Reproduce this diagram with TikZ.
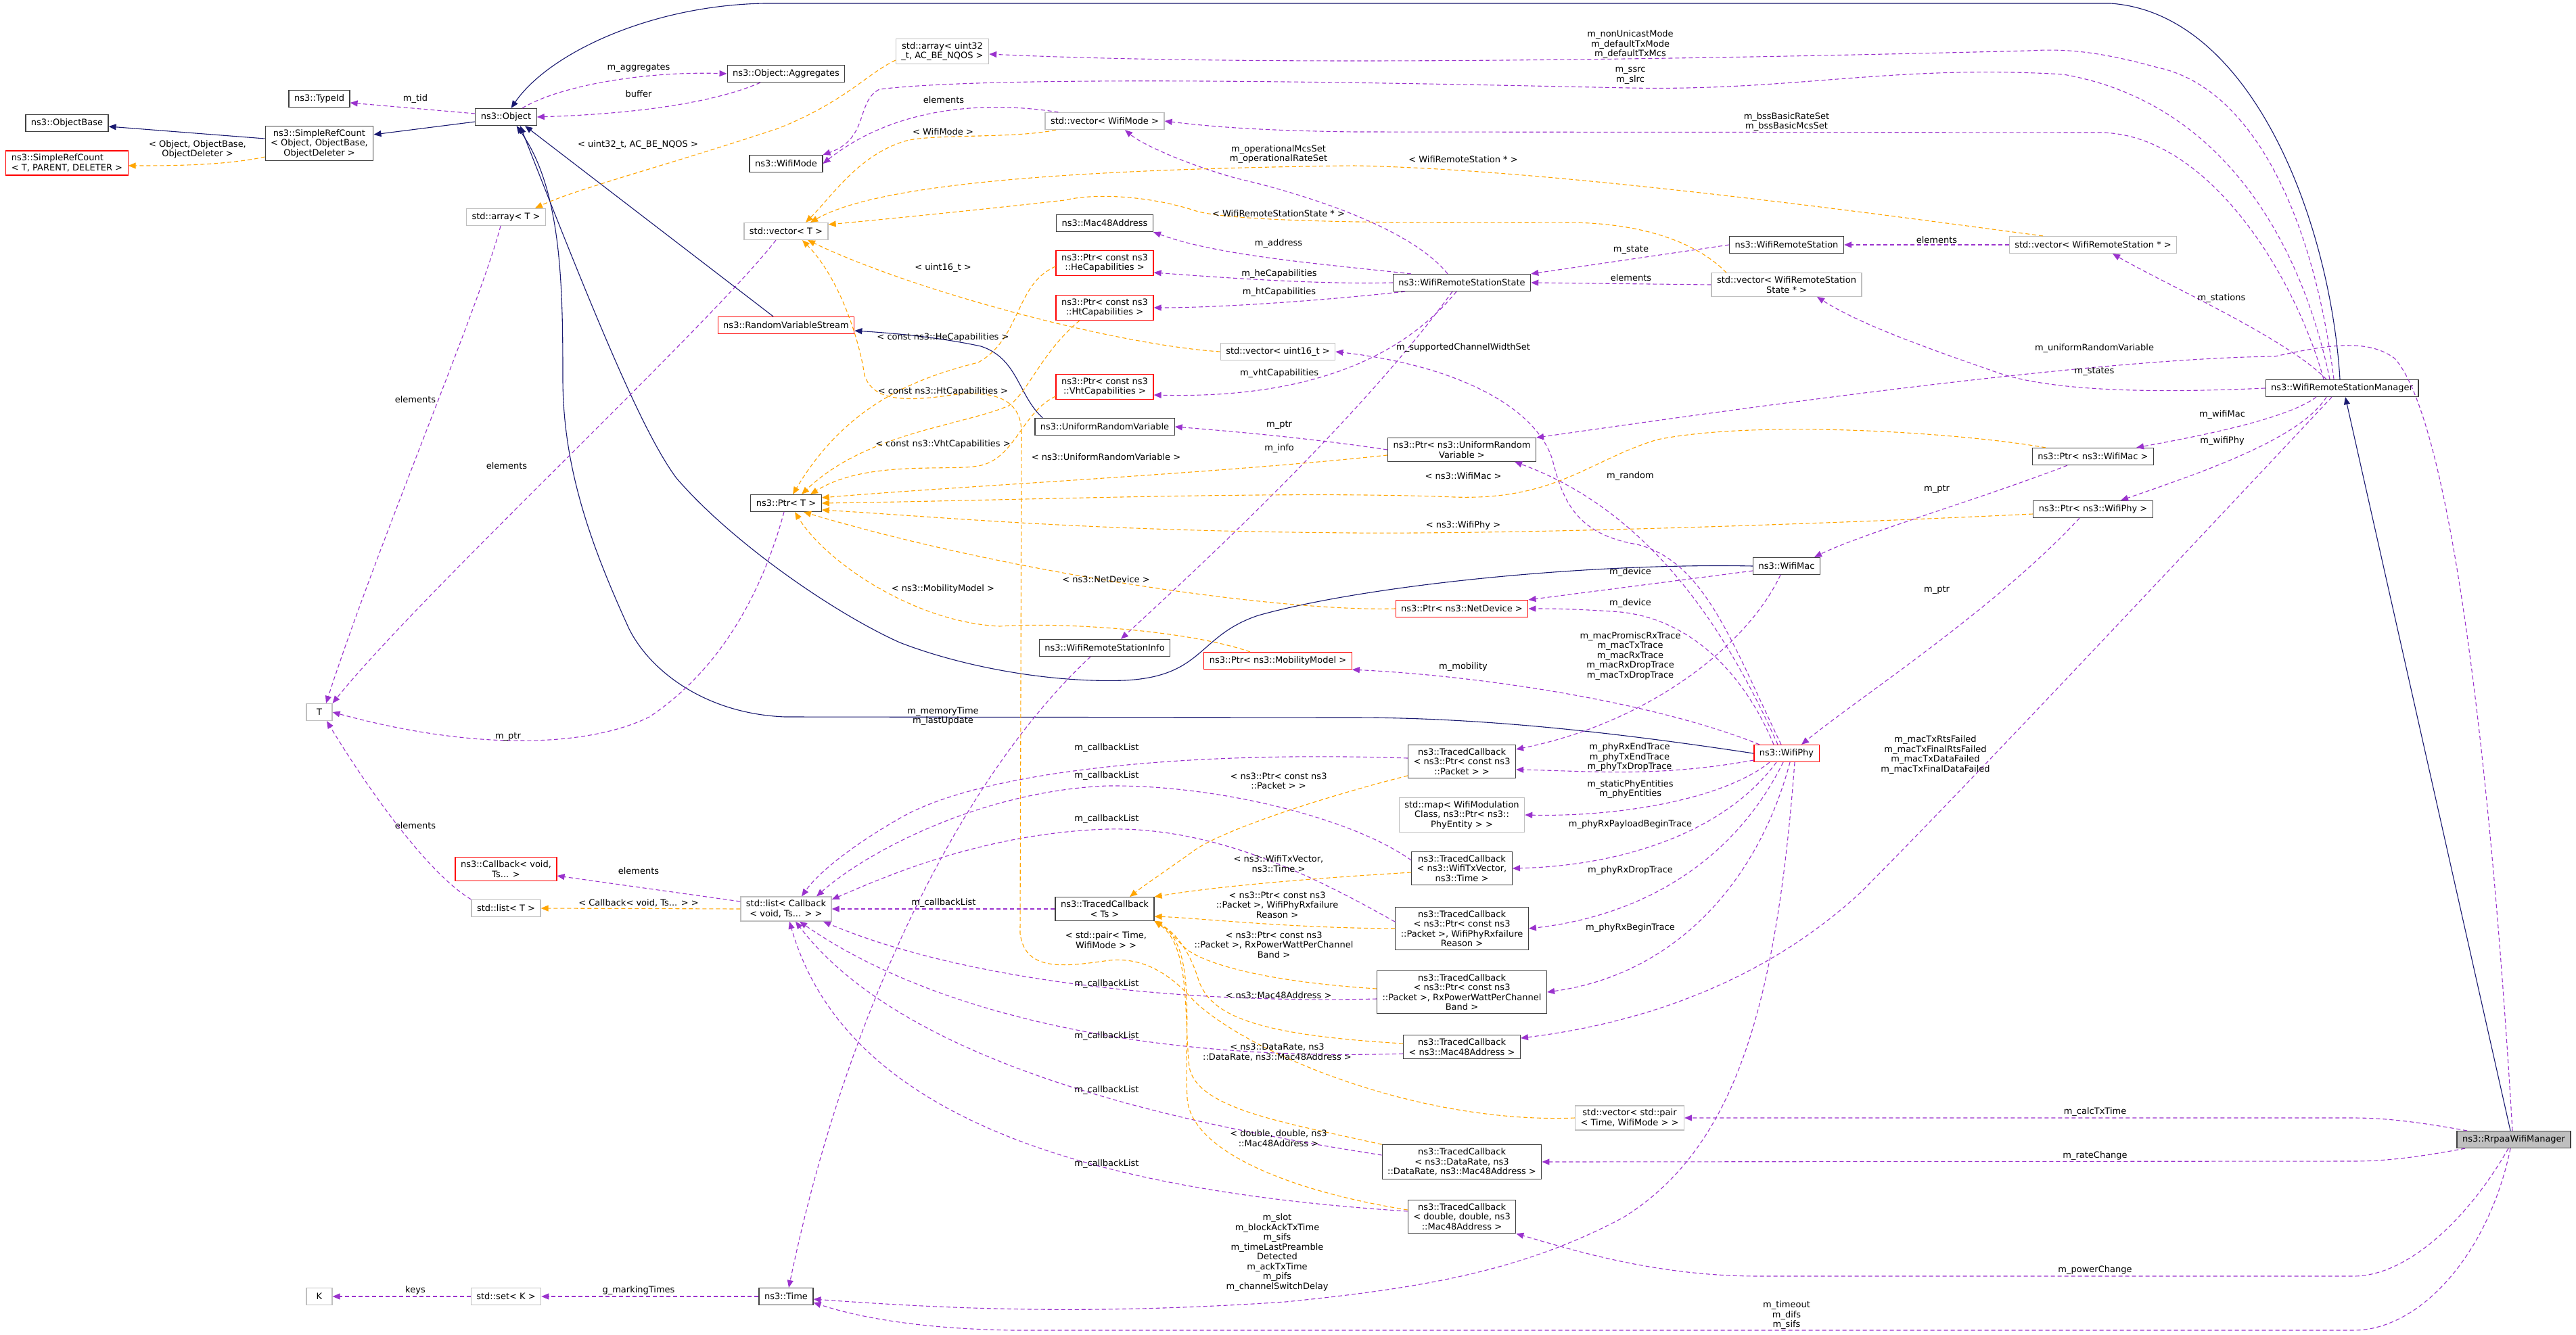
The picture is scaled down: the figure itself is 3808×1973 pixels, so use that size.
\documentclass[tikz,border=0pt]{standalone}
\usepackage{fontspec}
\setmainfont{DejaVu Sans}
\usetikzlibrary{arrows.meta}
\definecolor{inhcol}{HTML}{191970}
\definecolor{usecol}{HTML}{9A32CD}
\definecolor{tplcol}{HTML}{FFA500}
\definecolor{boxcol}{HTML}{404040}
\definecolor{extcol}{HTML}{BFBFBF}

\begin{document}
\begin{tikzpicture}[x=1pt,y=-1pt,
  every node/.style={font=\fontsize{13}{14.5}\selectfont},
  cls/.style={draw=boxcol, line width=1.2pt, fill=white, align=center,
              inner xsep=8pt, inner ysep=5pt, minimum height=25pt},
  extcls/.style={cls, draw=extcol},
  redcls/.style={cls, draw=red},
  maincls/.style={cls, fill=extcol},
  lbl/.style={align=center, inner sep=1pt},
  inh/.style={draw=inhcol, line width=1.1pt, -{Triangle[length=11pt,width=9pt]}},
  use/.style={draw=usecol, line width=1.1pt, dash pattern=on 6pt off 4pt,
              -{Triangle[length=11pt,width=9pt]}},
  tpl/.style={use, draw=tplcol},
  ]
  \path[fill=white] (0,0) rectangle (3808,1973);
  \useasboundingbox (0,0) rectangle (3808,1973);

  % classes
  \node[cls] (obase) at (99,182) {ns3::ObjectBase};
  \node[redcls, align=left] (srcT) at (99,241) {ns3::SimpleRefCount\\< T, PARENT, DELETER >};
  \node[cls] (srcO) at (472,212) {ns3::SimpleRefCount\\< Object, ObjectBase,\\ObjectDeleter >};
  \node[cls] (typeid) at (472,146) {ns3::TypeId};
  \node[cls] (object) at (748,173) {ns3::Object};
  \node[extcls] (arrT) at (748,321) {std::array< T >};
  \node[cls] (aggr) at (1162,109) {ns3::Object::Aggregates};
  \node[extcls] (arrU) at (1393,76) {std::array< uint32\\\_t, AC\_BE\_NQOS >};
  \node[cls] (wmode) at (1162,242) {ns3::WifiMode};
  \node[extcls] (vecWM) at (1633,179) {std::vector< WifiMode >};
  \node[extcls] (vecT) at (1162,342) {std::vector< T >};
  \node[cls] (mac48) at (1633,330) {ns3::Mac48Address};
  \node[redcls] (heCap) at (1633,389) {ns3::Ptr< const ns3\\::HeCapabilities >};
  \node[redcls] (htCap) at (1633,455) {ns3::Ptr< const ns3\\::HtCapabilities >};
  \node[redcls] (vhtCap) at (1633,572) {ns3::Ptr< const ns3\\::VhtCapabilities >};
  \node[redcls] (rvs) at (1162,481) {ns3::RandomVariableStream};
  \node[extcls] (vecU16) at (1889,520) {std::vector< uint16\_t >};
  \node[cls] (urv) at (1633,631) {ns3::UniformRandomVariable};
  \node[cls] (ptrT) at (1162,744) {ns3::Ptr< T >};
  \node[cls] (wrsi) at (1633,958) {ns3::WifiRemoteStationInfo};
  \node[redcls] (ptrMob) at (1889,977) {ns3::Ptr< ns3::MobilityModel >};
  \node[cls] (wrs) at (2641,362) {ns3::WifiRemoteStation};
  \node[cls] (wrss) at (2161,418) {ns3::WifiRemoteStationState};
  \node[extcls] (vecWRSS) at (2641,421) {std::vector< WifiRemoteStation\\State * >};
  \node[extcls] (vecWRS) at (3094,362) {std::vector< WifiRemoteStation * >};
  \node[cls] (wrsm) at (3462,574) {ns3::WifiRemoteStationManager};
  \node[cls] (ptrMac) at (3094,675) {ns3::Ptr< ns3::WifiMac >};
  \node[cls] (ptrPhy) at (3094,753) {ns3::Ptr< ns3::WifiPhy >};
  \node[cls] (ptrURV) at (2161,665) {ns3::Ptr< ns3::UniformRandom\\Variable >};
  \node[cls] (wmac) at (2641,837) {ns3::WifiMac};
  \node[redcls] (ptrND) at (2161,900) {ns3::Ptr< ns3::NetDevice >};
  \node[cls] (tcPkt) at (2161,1126) {ns3::TracedCallback\\< ns3::Ptr< const ns3\\::Packet > >};
  \node[redcls] (wphy) at (2641,1114) {ns3::WifiPhy};
  \node[extcls] (phyMap) at (2161,1205) {std::map< WifiModulation\\Class, ns3::Ptr< ns3::\\PhyEntity > >};
  \node[cls] (tcTx) at (2161,1284) {ns3::TracedCallback\\< ns3::WifiTxVector,\\ns3::Time >};
  \node[cls] (tcFail) at (2161,1373) {ns3::TracedCallback\\< ns3::Ptr< const ns3\\::Packet >, WifiPhyRxfailure\\Reason >};
  \node[cls] (tcPow) at (2161,1467) {ns3::TracedCallback\\< ns3::Ptr< const ns3\\::Packet >, RxPowerWattPerChannel\\Band >};
  \node[cls] (tcMac) at (2161,1548) {ns3::TracedCallback\\< ns3::Mac48Address >};
  \node[extcls] (vecPair) at (2409,1653) {std::vector< std::pair\\< Time, WifiMode > >};
  \node[cls] (tcRate) at (2161,1718) {ns3::TracedCallback\\< ns3::DataRate, ns3\\::DataRate, ns3::Mac48Address >};
  \node[cls] (tcDbl) at (2161,1799) {ns3::TracedCallback\\< double, double, ns3\\::Mac48Address >};
  \node[maincls] (rrpaa) at (3716,1685) {ns3::RrpaaWifiManager};
  \node[extcls, minimum width=38pt] (T) at (472,1053) {T};
  \node[redcls] (cb) at (748,1285) {ns3::Callback< void,\\Ts... >};
  \node[extcls] (listT) at (748,1343) {std::list< T >};
  \node[extcls] (listCb) at (1162,1344) {std::list< Callback\\< void, Ts... > >};
  \node[cls] (tcTs) at (1633,1344) {ns3::TracedCallback\\< Ts >};
  \node[extcls, minimum width=38pt] (K) at (472,1917) {K};
  \node[extcls] (setK) at (748,1917) {std::set< K >};
  \node[cls] (time) at (1162,1917) {ns3::Time};

  % inheritance
  \draw[inh] ([xshift=-3pt]wrsm.north) .. controls (3445,330) and (3330,20) .. (3120,5) -- (1130,5)
    .. controls (960,8) and (810,80) .. (object.60);
  \draw[inh] ([xshift=-19pt]rvs.north) -- (object.-25);
  \draw[inh] ([xshift=12pt]urv.north west) .. controls (1505,585) and (1505,530) .. (1450,512)
    .. controls (1380,497) and (1310,492) .. ([yshift=-8pt]rvs.east);
  \draw[inh] (wmac.west) .. controls (2350,832) and (2020,865) .. (1860,910)
    .. controls (1770,940) and (1780,1000) .. (1663,1006)
    .. controls (1550,1010) and (1420,985) .. (1330,950)
    .. controls (1230,905) and (1080,800) .. (1000,707)
    .. controls (950,640) and (880,470) .. (object.-32);
  \draw[inh] (wphy.west) .. controls (2400,1085) and (2200,1061) .. (2000,1061) -- (1160,1060)
    .. controls (1040,1055) and (960,990) .. (930,930)
    .. controls (880,820) and (832,700) .. (832,560)
    .. controls (832,420) and (830,280) .. (object.-40);
  \draw[inh] ([xshift=-5pt]rrpaa.north) -- ([xshift=5pt]wrsm.south);
  \draw[inh] ([yshift=7pt]srcO.west) -- ([yshift=-5pt]obase.east);
  \draw[inh] ([yshift=-7pt]object.west) -- ([yshift=13pt]srcO.east);

  % usage
  \draw[use] ([yshift=5pt]object.west) -- ([yshift=-6pt]typeid.east);
  \draw[use] ([xshift=24pt]object.north) .. controls (830,125) and (960,105) .. (aggr.west);
  \draw[use] ([xshift=-38pt]aggr.south) .. controls (1060,150) and (950,168) .. (object.east);
  \draw[use] ([xshift=-12pt]wrsm.north) .. controls (3420,320) and (3330,130) .. (3190,100)
    .. controls (3100,75) and (3050,72) .. (3000,75)
    .. controls (2600,85) and (1900,100) .. ([yshift=-4pt]arrU.east);
  \draw[use] ([xshift=-18pt]wrsm.north) .. controls (3400,350) and (3280,150) .. (3050,110)
    .. controls (2800,95) and (2650,135) .. (2408,130)
    .. controls (2200,126) and (1500,108) .. (1300,132)
    .. controls (1265,150) and (1285,205) .. (wmode.north east);
  \draw[use] ([xshift=20pt]vecWM.north west) .. controls (1450,148) and (1320,160) .. (wmode.east);
  \draw[use] ([xshift=-27pt]wrsm.north) .. controls (3390,400) and (3260,196) .. (3103,196) -- (2000,195)
    .. controls (1850,193) and (1780,186) .. (vecWM.east);
  \draw[use] ([xshift=-21pt]wrss.north) .. controls (2080,330) and (1900,280) .. (1829,264)
    .. controls (1760,245) and (1690,215) .. ([xshift=30pt]vecWM.south);
  \draw[use] (vecWRS.west) -- (wrs.east);
  \draw[use] (wrs.west) -- (wrss.north east);
  \draw[use] (vecWRSS.west) -- (wrss.east);
  \draw[use] (wrsm.west) .. controls (3150,583) and (3020,575) .. (2950,550)
    .. controls (2850,515) and (2750,480) .. ([xshift=45pt]vecWRSS.south);
  \draw[use] ([xshift=-23pt]wrsm.north) .. controls (3380,500) and (3200,420) .. ([xshift=29pt]vecWRS.south);
  \draw[use] ([xshift=-75pt]wrss.north) .. controls (1950,390) and (1800,378) .. (mac48.south east);
  \draw[use] (wrss.west) .. controls (1950,421) and (1800,410) .. ([yshift=-14pt]heCap.east);
  \draw[use] ([xshift=-84pt]wrss.south) .. controls (1950,445) and (1800,455) .. (htCap.east);
  \draw[use] ([xshift=-8pt]wrss.south) .. controls (2080,520) and (1950,590) .. ([yshift=-12pt]vhtCap.east);
  \draw[use] ([xshift=-14pt]wrss.south) .. controls (2010,620) and (1760,850) .. ([xshift=24pt]wrsi.north);
  \draw[use] ([xshift=-2pt]rrpaa.north) .. controls (3680,1100) and (3620,620) .. (3540,530)
    .. controls (3500,500) and (3440,510) .. (3363,527)
    .. controls (3100,530) and (2600,600) .. (ptrURV.north east);
  \draw[use] (ptrURV.west) .. controls (1950,650) and (1850,640) .. (urv.east);
  \draw[use] ([xshift=-13pt]wphy.north) .. controls (2560,950) and (2450,760) .. ([xshift=78pt]ptrURV.south);
  \draw[use] ([xshift=-8pt]wphy.north) .. controls (2560,950) and (2520,830) .. (2420,805)
    .. controls (2330,790) and (2310,740) .. (2295,680)
    .. controls (2270,600) and (2150,540) .. (vecU16.east);
  \draw[use] ([xshift=-19pt]wphy.north) .. controls (2580,1000) and (2500,910) .. (2383,904)
    .. controls (2320,900) and (2290,900) .. (ptrND.east);
  \draw[use] ([yshift=-7pt]wmac.west) -- (ptrND.north east);
  \draw[use] ([xshift=-9pt]wmac.south) .. controls (2580,960) and (2430,1070) .. ([yshift=18pt]tcPkt.east);
  \draw[use] ([yshift=-10pt]wphy.west) .. controls (2450,1150) and (2350,1140) .. ([yshift=-12pt]tcPkt.east);
  \draw[use] ([xshift=-40pt]wphy.north) .. controls (2450,1040) and (2200,1000) .. (ptrMob.south east);
  \draw[use] ([xshift=-25pt]wphy.south) .. controls (2550,1180) and (2400,1208) .. (phyMap.east);
  \draw[use] ([xshift=-15pt]wphy.south) .. controls (2550,1230) and (2400,1280) .. (tcTx.east);
  \draw[use] ([xshift=-5pt]wphy.south) .. controls (2560,1280) and (2420,1355) .. (tcFail.east);
  \draw[use] ([xshift=5pt]wphy.south) .. controls (2600,1300) and (2480,1440) .. (tcPow.east);
  \draw[use] ([xshift=12pt]wphy.south) .. controls (2625,1500) and (2560,1700) .. (2400,1800)
    .. controls (2250,1880) and (2100,1905) .. (1900,1925)
    .. controls (1600,1945) and (1400,1935) .. ([yshift=-4pt]time.east);
  \draw[use] ([xshift=-15pt]wrsm.south) .. controls (3200,850) and (2900,1170) .. (2750,1320)
    .. controls (2620,1440) and (2450,1510) .. ([yshift=13pt]tcMac.east);
  \draw[use] ([xshift=-38pt]ptrMac.south) .. controls (2950,730) and (2750,790) .. ([xshift=41pt]wmac.north);
  \draw[use] ([xshift=-20pt]ptrPhy.south) .. controls (2950,900) and (2750,1030) .. ([xshift=22pt]wphy.north);
  \draw[use] ([xshift=-38pt]wrsm.south) .. controls (3380,620) and (3250,645) .. ([xshift=64pt]ptrMac.north);
  \draw[use] ([xshift=-23pt]wrsm.south) .. controls (3400,650) and (3250,700) .. ([xshift=41pt]ptrPhy.north);
  \draw[use] ([xshift=-69pt]rrpaa.north) .. controls (3580,1660) and (3530,1653) .. (3479,1653) -- (vecPair.east);
  \draw[use] ([xshift=-72pt]rrpaa.south) .. controls (3580,1710) and (3530,1717) .. (3479,1717) -- (tcRate.east);
  \draw[use] ([xshift=-8pt]rrpaa.south) .. controls (3650,1800) and (3560,1887) .. (3479,1887) -- (2600,1887)
    .. controls (2450,1887) and (2330,1850) .. (tcDbl.south east);
  \draw[use] ([xshift=-5pt]rrpaa.south) .. controls (3680,1850) and (3580,1967) .. (3479,1967) -- (1500,1967)
    .. controls (1350,1965) and (1260,1945) .. ([yshift=-9pt]time.east);
  \draw[use] ([xshift=-21pt]wrsi.south) .. controls (1420,1150) and (1250,1500) .. ([xshift=4pt]time.north);
  \draw[use] (time.west) -- (setK.east);
  \draw[use] (setK.west) -- (K.east);
  \draw[use] ([xshift=-8pt]arrT.south) .. controls (710,450) and (560,800) .. ([xshift=10pt]T.north);
  \draw[use] ([xshift=-15pt]vecT.south) .. controls (1050,480) and (620,880) .. (T.north east);
  \draw[use] (listT.north west) .. controls (630,1290) and (540,1160) .. ([xshift=11pt]T.south);
  \draw[use] ([xshift=-3pt]ptrT.south) .. controls (1120,900) and (1050,1000) .. (960,1060)
    .. controls (880,1100) and (720,1115) .. (T.east);
  \draw[use] ([yshift=11pt]listCb.west) -- ([yshift=-10pt]cb.east);
  % callback lists
  \draw[use] (tcTs.west) -- (listCb.east);
  \draw[use] ([yshift=5pt]tcPkt.west) .. controls (1750,1110) and (1450,1140) .. (1330,1210)
    .. controls (1260,1250) and (1210,1290) .. ([xshift=23pt]listCb.north);
  \draw[use] ([yshift=12pt]tcTx.west) .. controls (2000,1210) and (1800,1160) .. (1636,1162)
    .. controls (1450,1170) and (1280,1260) .. ([xshift=45pt]listCb.north);
  \draw[use] ([yshift=10pt]tcFail.west) .. controls (1950,1300) and (1800,1222) .. (1636,1226)
    .. controls (1450,1232) and (1300,1300) .. ([yshift=14pt]listCb.east);
  \draw[use] ([yshift=-10pt]tcPow.west) .. controls (1700,1485) and (1400,1440) .. ([xshift=55pt]listCb.south);
  \draw[use] ([yshift=-10pt]tcMac.west) .. controls (1700,1570) and (1380,1500) .. ([xshift=20pt]listCb.south);
  \draw[use] ([yshift=10pt]tcRate.west) .. controls (1800,1670) and (1350,1590) .. ([xshift=14pt]listCb.south);
  \draw[use] ([yshift=8pt]tcDbl.west) .. controls (1600,1760) and (1250,1650) .. ([xshift=5pt]listCb.south);

  % template instances
  \draw[tpl] ([yshift=-20pt]srcO.west) .. controls (330,245) and (250,245) .. ([yshift=-4pt]srcT.east);
  \draw[tpl] ([yshift=-13pt]arrU.west) .. controls (1280,110) and (1250,150) .. (1150,190)
    .. controls (1000,240) and (850,280) .. ([xshift=43pt]arrT.north);
  \draw[tpl] ([xshift=-72pt]vecWM.south) .. controls (1500,205) and (1380,198) .. (1340,208)
    .. controls (1270,228) and (1230,290) .. ([xshift=29pt]vecT.north);
  \draw[tpl] ([xshift=-74pt]vecWRS.north) .. controls (2800,320) and (2300,250) .. (2000,245)
    .. controls (1600,250) and (1300,270) .. ([xshift=36pt]vecT.north);
  \draw[tpl] ([xshift=-89pt]vecWRSS.north) .. controls (2520,370) and (2450,330) .. (2320,329)
    .. controls (2100,330) and (1820,330) .. (1765,311)
    .. controls (1700,290) and (1620,285) .. (1574,296)
    .. controls (1450,310) and (1300,325) .. ([yshift=10pt]vecT.east);
  \draw[tpl] (vecU16.west) .. controls (1650,510) and (1350,430) .. ([xshift=32pt]vecT.south);
  \draw[tpl] (vecPair.west) .. controls (2100,1662) and (1850,1560) .. (1765,1480)
    .. controls (1730,1440) and (1690,1415) .. (1640,1420)
    .. controls (1580,1428) and (1515,1440) .. (1508,1380) -- (1510,640)
    .. controls (1510,590) and (1470,575) .. (1400,585)
    .. controls (1330,595) and (1290,590) .. (1278,555)
    .. controls (1270,500) and (1240,410) .. ([xshift=24pt]vecT.south);
  \draw[tpl] ([yshift=-5pt]heCap.west) .. controls (1500,420) and (1510,500) .. (1446,536)
    .. controls (1350,560) and (1250,600) .. ([xshift=10pt]ptrT.north);
  \draw[tpl] ([xshift=-37pt]htCap.south) .. controls (1540,520) and (1520,580) .. (1491,600)
    .. controls (1420,630) and (1280,640) .. ([xshift=23pt]ptrT.north);
  \draw[tpl] ([yshift=-14pt]vhtCap.west) .. controls (1510,610) and (1500,680) .. (1446,689)
    .. controls (1400,697) and (1280,680) .. ([xshift=36pt]ptrT.north);
  \draw[tpl] ([yshift=-8pt]ptrURV.west) .. controls (1800,700) and (1400,720) .. ([yshift=8pt]ptrT.east);
  \draw[tpl] ([xshift=-70pt]ptrMac.north) .. controls (2900,640) and (2600,620) .. (2450,650)
    .. controls (2350,680) and (2300,740) .. (2150,735)
    .. controls (1900,725) and (1500,740) .. (ptrT.east);
  \draw[tpl] ([yshift=-7pt]ptrPhy.west) .. controls (2800,770) and (2300,790) .. (2000,788)
    .. controls (1600,785) and (1400,765) .. ([yshift=-10pt]ptrT.east);
  \draw[tpl] (ptrND.west) .. controls (1900,905) and (1500,850) .. ([xshift=26pt]ptrT.south);
  \draw[tpl] ([xshift=-41pt]ptrMob.north) .. controls (1750,930) and (1560,920) .. (1478,926)
    .. controls (1350,920) and (1220,830) .. ([xshift=13pt]ptrT.south);
  \draw[tpl] (listCb.west) -- (listT.east);
  \draw[tpl] ([yshift=-21pt]tcPkt.west) .. controls (1950,1180) and (1800,1230) .. (1762,1260)
    .. controls (1720,1290) and (1690,1310) .. ([xshift=37pt]tcTs.north);
  \draw[tpl] ([yshift=-6pt]tcTx.west) .. controls (1950,1298) and (1800,1310) .. (tcTs.north east);
  \draw[tpl] (tcFail.west) .. controls (1900,1372) and (1780,1358) .. ([yshift=-11pt]tcTs.east);
  \draw[tpl] ([yshift=5pt]tcPow.west) .. controls (1850,1450) and (1770,1420) .. (1750,1400)
    .. controls (1735,1385) and (1725,1372) .. (tcTs.south east);
  \draw[tpl] ([yshift=5pt]tcMac.west) .. controls (1850,1530) and (1790,1500) .. (1772,1450)
    .. controls (1760,1410) and (1740,1380) .. (tcTs.south east);
  \draw[tpl] (tcRate.north west) .. controls (1900,1660) and (1770,1640) .. (1758,1578)
    .. controls (1750,1500) and (1760,1400) .. (tcTs.south east);
  \draw[tpl] ([yshift=10pt]tcDbl.west) .. controls (1900,1760) and (1760,1700) .. (1755,1624)
    .. controls (1750,1520) and (1770,1400) .. (tcTs.south east);

  % edge labels
  \node[lbl] (l-tid) at (614,146) {m\_tid};
  \node[lbl] (l-srcO) at (292,221) {< Object, ObjectBase,\\ObjectDeleter >};
  \node[lbl] (l-aggr) at (944,100) {m\_aggregates};
  \node[lbl] (l-buf) at (944,139) {buffer};
  \node[lbl] (l-arrU) at (943,214) {< uint32\_t, AC\_BE\_NQOS >};
  \node[lbl] (l-wmel) at (1395,148) {elements};
  \node[lbl] (l-vwm) at (1394,195) {< WifiMode >};
  \node[lbl] (l-mode) at (2410,66) {m\_nonUnicastMode\\m\_defaultTxMode\\m\_defaultTxMcs};
  \node[lbl] (l-src) at (2410,112) {m\_ssrc\\m\_slrc};
  \node[lbl] (l-bss) at (2641,180) {m\_bssBasicRateSet\\m\_bssBasicMcsSet};
  \node[lbl] (l-vwrs) at (2163,236) {< WifiRemoteStation * >};
  \node[lbl] (l-oper) at (1890,228) {m\_operationalMcsSet\\m\_operationalRateSet};
  \node[lbl] (l-vwrss) at (1890,316) {< WifiRemoteStationState * >};
  \node[lbl] (l-addr) at (1890,360) {m\_address};
  \node[lbl] (l-u16) at (1394,396) {< uint16\_t >};
  \node[lbl] (l-he) at (1891,405) {m\_heCapabilities};
  \node[lbl] (l-ht) at (1891,432) {m\_htCapabilities};
  \node[lbl] (l-cHe) at (1394,499) {< const ns3::HeCapabilities >};
  \node[lbl] (l-vht) at (1891,552) {m\_vhtCapabilities};
  \node[lbl] (l-wrsel) at (2863,355) {elements};
  \node[lbl] (l-state) at (2411,369) {m\_state};
  \node[lbl] (l-wrssel) at (2411,411) {elements};
  \node[lbl] (l-chw) at (2163,514) {m\_supportedChannelWidthSet};
  \node[lbl] (l-stations) at (3284,441) {m\_stations};
  \node[lbl] (l-urv) at (3096,515) {m\_uniformRandomVariable};
  \node[lbl] (l-states) at (3096,549) {m\_states};
  \node[lbl] (l-wmac) at (3285,613) {m\_wifiMac};
  \node[lbl] (l-wphy) at (3285,652) {m\_wifiPhy};
  \node[lbl] (l-cHt) at (1394,579) {< const ns3::HtCapabilities >};
  \node[lbl] (l-cVht) at (1394,657) {< const ns3::VhtCapabilities >};
  \node[lbl] (l-tUrv) at (1635,676) {< ns3::UniformRandomVariable >};
  \node[lbl] (l-ptrU) at (1891,628) {m\_ptr};
  \node[lbl] (l-info) at (1891,663) {m\_info};
  \node[lbl] (l-tND) at (1635,857) {< ns3::NetDevice >};
  \node[lbl] (l-tMob) at (1394,871) {< ns3::MobilityModel >};
  \node[lbl] (l-mem) at (1394,1059) {m\_memoryTime\\m\_lastUpdate};
  \node[lbl] (l-cb1) at (1636,1106) {m\_callbackList};
  \node[lbl] (l-cb2) at (1636,1147) {m\_callbackList};
  \node[lbl] (l-cb3) at (1636,1211) {m\_callbackList};
  \node[lbl] (l-tPkt) at (1890,1155) {< ns3::Ptr< const ns3\\::Packet > >};
  \node[lbl] (l-tMac) at (2163,704) {< ns3::WifiMac >};
  \node[lbl] (l-random) at (2410,704) {m\_random};
  \node[lbl] (l-ptrM) at (2863,723) {m\_ptr};
  \node[lbl] (l-tPhy) at (2163,777) {< ns3::WifiPhy >};
  \node[lbl] (l-dev1) at (2410,846) {m\_device};
  \node[lbl] (l-dev2) at (2410,892) {m\_device};
  \node[lbl] (l-ptrP) at (2863,872) {m\_ptr};
  \node[lbl] (l-macTr) at (2410,970) {m\_macPromiscRxTrace\\m\_macTxTrace\\m\_macRxTrace\\m\_macRxDropTrace\\m\_macTxDropTrace};
  \node[lbl] (l-mob) at (2163,986) {m\_mobility};
  \node[lbl] (l-phyTr) at (2409,1120) {m\_phyRxEndTrace\\m\_phyTxEndTrace\\m\_phyTxDropTrace};
  \node[lbl] (l-ent) at (2410,1167) {m\_staticPhyEntities\\m\_phyEntities};
  \node[lbl] (l-pay) at (2410,1219) {m\_phyRxPayloadBeginTrace};
  \node[lbl] (l-fail) at (2861,1116) {m\_macTxRtsFailed\\m\_macTxFinalRtsFailed\\m\_macTxDataFailed\\m\_macTxFinalDataFailed};
  \node[lbl] (l-arrel) at (614,591) {elements};
  \node[lbl] (l-vecel) at (749,689) {elements};
  \node[lbl] (l-ptrT) at (751,1089) {m\_ptr};
  \node[lbl] (l-listel) at (614,1221) {elements};
  \node[lbl] (l-cbel) at (944,1288) {elements};
  \node[lbl] (l-tCb) at (944,1335) {< Callback< void, Ts... > >};
  \node[lbl] (l-keys) at (614,1908) {keys};
  \node[lbl] (l-mark) at (944,1908) {g\_markingTimes};
  \node[lbl] (l-cb0) at (1395,1335) {m\_callbackList};
  \node[lbl] (l-tTx) at (1890,1277) {< ns3::WifiTxVector,\\ns3::Time >};
  \node[lbl] (l-tFail) at (1888,1338) {< ns3::Ptr< const ns3\\::Packet >, WifiPhyRxfailure\\Reason >};
  \node[lbl] (l-tPair) at (1635,1390) {< std::pair< Time,\\WifiMode > >};
  \node[lbl] (l-tPow) at (1883,1397) {< ns3::Ptr< const ns3\\::Packet >, RxPowerWattPerChannel\\Band >};
  \node[lbl] (l-cb4) at (1636,1455) {m\_callbackList};
  \node[lbl] (l-tM48) at (1890,1472) {< ns3::Mac48Address >};
  \node[lbl] (l-cb5) at (1636,1532) {m\_callbackList};
  \node[lbl] (l-tRate) at (1888,1556) {< ns3::DataRate, ns3\\::DataRate, ns3::Mac48Address >};
  \node[lbl] (l-cb6) at (1636,1612) {m\_callbackList};
  \node[lbl] (l-tDbl) at (1890,1683) {< double, double, ns3\\::Mac48Address >};
  \node[lbl] (l-cb7) at (1636,1721) {m\_callbackList};
  \node[lbl] (l-drop) at (2410,1287) {m\_phyRxDropTrace};
  \node[lbl] (l-begin) at (2410,1372) {m\_phyRxBeginTrace};
  \node[lbl] (l-ifs) at (1888,1852) {m\_slot\\m\_blockAckTxTime\\m\_sifs\\m\_timeLastPreamble\\Detected\\m\_ackTxTime\\m\_pifs\\m\_channelSwitchDelay};
  \node[lbl] (l-calc) at (3097,1644) {m\_calcTxTime};
  \node[lbl] (l-rate) at (3097,1709) {m\_rateChange};
  \node[lbl] (l-power) at (3097,1878) {m\_powerChange};
  \node[lbl] (l-timeout) at (2641,1945) {m\_timeout\\m\_difs\\m\_sifs};
\end{tikzpicture}
\end{document}
